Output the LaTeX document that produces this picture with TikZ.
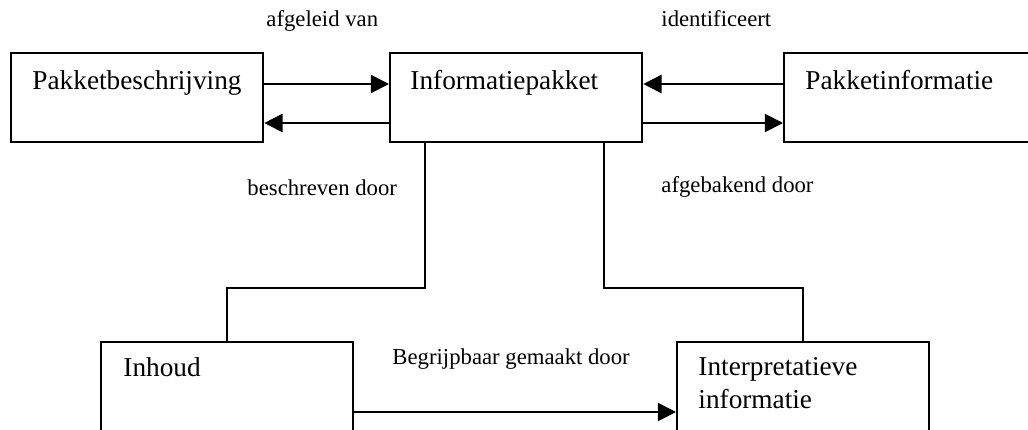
\documentclass[tikz,border=0pt]{standalone}
\usepackage{fontspec}
\setmainfont{Liberation Serif}
\usetikzlibrary{arrows.meta}
\begin{document}
\begin{tikzpicture}[x=0.44pt,y=-0.44pt,
  box/.style={draw,line width=0.9pt,anchor=north west,inner sep=0pt,minimum width=111pt,minimum height=39pt},
  boxtext/.style={font=\fontsize{12}{14.4}\selectfont,inner sep=0pt,anchor=base west},
  lbl/.style={font=\fontsize{10}{12}\selectfont,inner sep=0pt,anchor=base west},
  arr/.style={line width=0.8pt,-{Triangle[length=8pt,width=8pt]}},
  link/.style={line width=0.8pt}]
\clip (0,0) rectangle (1028,429);
\node[box] (pb) at (10,52) {};
\node[box] (ip) at (389,52) {};
\node[box] (pi) at (783,52) {};
\node[box,minimum width=111pt,minimum height=60pt] (inh) at (100,341) {};
\node[box,minimum width=111pt,minimum height=60pt] (itp) at (676,341) {};
\node[boxtext] (tpb) at (32,89) {Pakketbeschrijving};
\node[boxtext] (tip) at (410,89) {Informatiepakket};
\node[boxtext] (tpi) at (805,89) {Pakketinformatie};
\node[boxtext] (tinh) at (123,376) {Inhoud};
\node[boxtext,anchor=north west,align=left] (titp) at (698,357) {Interpretatieve\\informatie};
% labels
\node[lbl] (l1) at (266,26) {afgeleid van};
\node[lbl] (l2) at (661,26) {identificeert};
\node[lbl] (l3) at (247,195) {beschreven door};
\node[lbl] (l4) at (661,192) {afgebakend door};
\node[lbl] (l5) at (392,364) {Begrijpbaar gemaakt door};
% arrows between the top boxes
\draw[arr] ([shift={(0,32)}]pb.north east) -- ([shift={(0,32)}]ip.north west);
\draw[arr] ([shift={(0,71)}]ip.north west) -- ([shift={(0,71)}]pb.north east);
\draw[arr] ([shift={(0,32)}]pi.north west) -- ([shift={(0,32)}]ip.north east);
\draw[arr] ([shift={(0,71)}]ip.north east) -- ([shift={(0,71)}]pi.north west);
% links down
\draw[link] ([shift={(36,0)}]ip.south west) -- ++(0,145) -| (inh.north);
\draw[link] ([shift={(215,0)}]ip.south west) -- ++(0,145) -| (itp.north);
\coordinate (c1) at ([shift={(0,71)}]inh.north east);
\draw[arr] (c1) -- (c1 -| itp.west);
\end{tikzpicture}
\end{document}
